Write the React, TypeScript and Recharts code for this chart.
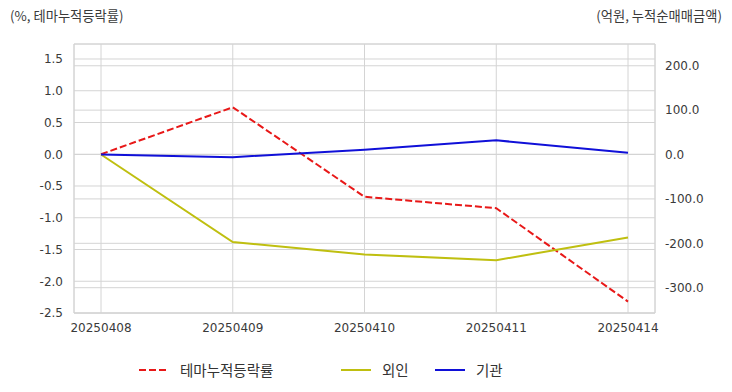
import React from 'react';
import { LineChart, Line, XAxis, YAxis, CartesianGrid } from 'recharts';

const dates = ['20250408', '20250409', '20250410', '20250411', '20250414'];
const themeReturn = [0.0, 0.74, -0.67, -0.85, -2.32];
const foreignNet = [0.0, -197, -225, -238, -187];
const instNet = [0.0, -6, 11, 32, 4];

const leftTicks = [-2.5, -2.0, -1.5, -1.0, -0.5, 0.0, 0.5, 1.0, 1.5];
const rightTicks = [-300, -200, -100, 0, 100, 200];

const series = [
  { key: 'theme', name: '테마누적등락률', color: '#e81818', axis: 'left', dash: '7 3', legendX: 139 },
  { key: 'foreign', name: '외인', color: '#bfbf10', axis: 'right', dash: undefined, legendX: 341 },
  { key: 'inst', name: '기관', color: '#1010d8', axis: 'right', dash: undefined, legendX: 435 },
];

const data = dates.map((d, i) => ({
  date: d,
  theme: themeReturn[i],
  foreign: foreignNet[i],
  inst: instNet[i],
}));

const font = '"Noto Sans CJK KR", "Noto Sans", sans-serif';
const tickStyle = { fontSize: 12, fill: '#3a3a3a', fontFamily: '"DejaVu Sans", sans-serif' };
const gridColor = '#d4d4d4';

const App: React.FC = () => {
  return (
    <div style={{ position: 'absolute', left: 0, top: 0, width: 732, height: 392, background: '#fff', fontFamily: font }}>
      <div style={{ position: 'absolute', left: 10, top: 6, fontSize: 13.3, color: '#3a3a3a' }}>(%, 테마누적등락률)</div>
      <div style={{ position: 'absolute', right: 10, top: 6, fontSize: 13.3, color: '#3a3a3a' }}>(억원, 누적순매매금액)</div>
      <LineChart width={732} height={392} data={data} margin={{ top: 44, right: 0, left: 0, bottom: 54 }}>
        <CartesianGrid yAxisId="left" stroke={gridColor} vertical={true} horizontal={true} />
        <CartesianGrid yAxisId="right" stroke={gridColor} vertical={false} horizontal={true} />
        <XAxis
          dataKey="date"
          padding={{ left: 27, right: 27 }}
          tick={tickStyle}
          tickLine={false}
          axisLine={{ stroke: gridColor }}
          tickMargin={4}
          height={25}
          interval={0}
        />
        <XAxis xAxisId="top" dataKey="date" orientation="top" height={0} tick={false} tickLine={false} axisLine={{ stroke: gridColor }} />
        <YAxis
          yAxisId="left"
          width={74}
          domain={[-2.5, 1.736]}
          ticks={leftTicks}
          allowDataOverflow
          tickFormatter={(v: number) => v.toFixed(1)}
          tick={tickStyle}
          tickLine={false}
          axisLine={{ stroke: gridColor }}
          tickMargin={5}
        />
        <YAxis
          yAxisId="right"
          orientation="right"
          width={77}
          domain={[-357, 249]}
          ticks={rightTicks}
          allowDataOverflow
          tickFormatter={(v: number) => v.toFixed(1)}
          tick={tickStyle}
          tickLine={false}
          axisLine={{ stroke: gridColor }}
          tickMargin={4}
        />
        {series.map((s) => (
          <Line
            key={s.key}
            yAxisId={s.axis}
            dataKey={s.key}
            name={s.name}
            stroke={s.color}
            strokeWidth={2}
            strokeDasharray={s.dash}
            dot={false}
            activeDot={false}
            type="linear"
            isAnimationActive={false}
          />
        ))}
      </LineChart>
      {series.map((s) => (
        <div
          key={s.key}
          style={{ position: 'absolute', top: 359, left: s.legendX, display: 'flex', alignItems: 'center', fontSize: 14.5, color: '#333', whiteSpace: 'nowrap' }}
        >
          <svg width={30} height={10}>
            <line x1={0} y1={5} x2={30} y2={5} stroke={s.color} strokeWidth={2} strokeDasharray={s.dash} />
          </svg>
          <span style={{ marginLeft: 11 }}>{s.name}</span>
        </div>
      ))}
    </div>
  );
};

export default App;
